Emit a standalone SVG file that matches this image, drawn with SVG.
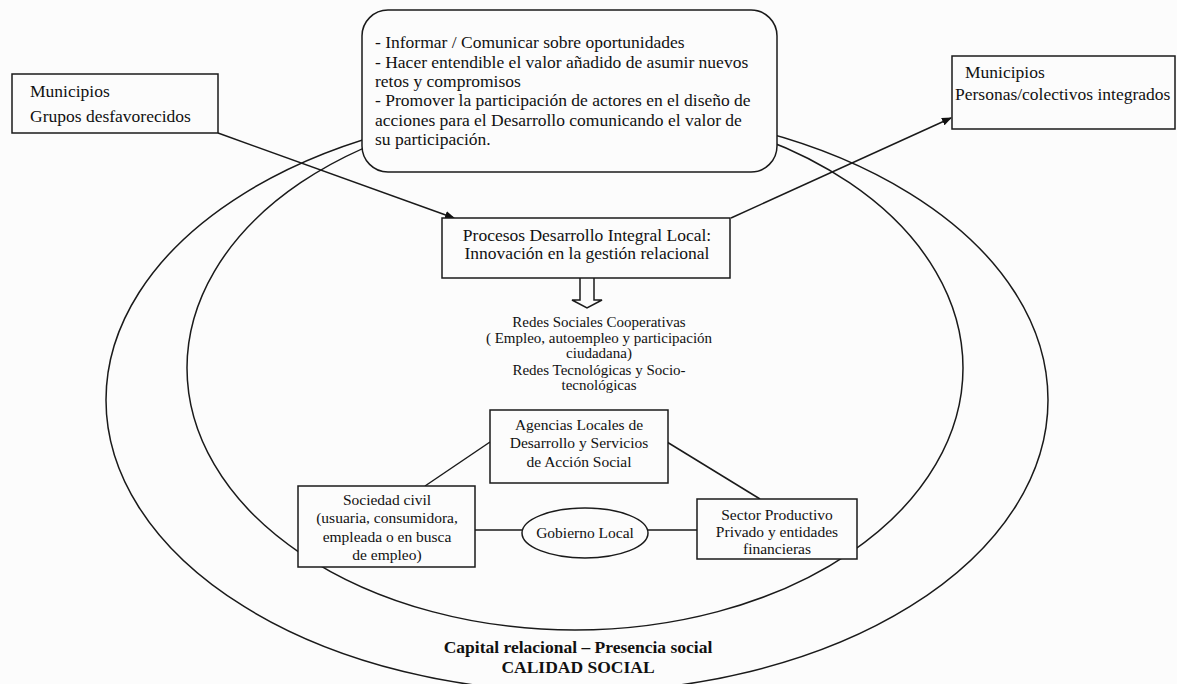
<svg xmlns="http://www.w3.org/2000/svg" width="1177" height="684" viewBox="0 0 1177 684">
<style>
.ln{fill:none;stroke:#1a1a1a;stroke-width:1.5}
.bx{fill:#fcfcfc;stroke:#1a1a1a;stroke-width:1.5}
.t{font-family:"Liberation Serif","Times New Roman",serif;fill:#111}
.big{font-size:17.5px}
.mid{font-size:15.5px}
.sm{font-size:15px}
.c{text-anchor:middle}
.b{font-weight:bold}
</style>
<defs>
<marker id="ah" markerWidth="10" markerHeight="8" refX="9" refY="4" orient="auto" markerUnits="userSpaceOnUse">
<path d="M0,0 L10,4 L0,8 Z" fill="#111"/>
</marker>
</defs>
<rect x="0" y="0" width="1177" height="684" fill="#fcfcfc"/>
<g id="rings">
<ellipse class="ln" cx="577" cy="400" rx="471" ry="292"/>
<ellipse class="ln" cx="575" cy="368" rx="388" ry="262"/>
</g>
<g id="top-box">
<rect class="bx" x="362" y="10" width="415" height="162" rx="26" ry="26"/>
<text class="t big" x="375" y="48">- Informar / Comunicar sobre oportunidades</text>
<text class="t big" x="375" y="67.5">- Hacer entendible el valor añadido de asumir nuevos</text>
<text class="t big" x="375" y="87">retos y compromisos</text>
<text class="t big" x="375" y="106">- Promover la participación de actores en el diseño de</text>
<text class="t big" x="375" y="125.5">acciones para el Desarrollo comunicando el valor  de</text>
<text class="t big" x="375" y="144.5">su participación.</text>
</g>
<g id="connectors">
<line class="ln" x1="218" y1="133" x2="454" y2="218" marker-end="url(#ah)"/>
<line class="ln" x1="731" y1="218" x2="951" y2="118" marker-end="url(#ah)"/>
<line class="ln" x1="490" y1="442" x2="425" y2="486"/>
<line class="ln" x1="667" y1="442" x2="760" y2="499"/>
<line class="ln" x1="475" y1="530" x2="522" y2="530"/>
<line class="ln" x1="648" y1="530" x2="697" y2="530"/>
<path class="bx" d="M580,278 L580,300 L572,300 L587,308 L602,300 L594,300 L594,278"/>
</g>
<g id="left-box">
<rect class="bx" x="12" y="74" width="206" height="59"/>
<text class="t big" x="30" y="97">Municipios</text>
<text class="t big" x="30" y="122">Grupos desfavorecidos</text>
</g>
<g id="right-box">
<rect class="bx" x="952" y="56" width="223" height="73"/>
<text class="t big" x="965" y="78">Municipios</text>
<text class="t big" x="955" y="100">Personas/colectivos integrados</text>
</g>
<g id="procesos">
<rect class="bx" x="442" y="218" width="288" height="60"/>
<text class="t big c" x="587" y="241">Procesos Desarrollo Integral Local:</text>
<text class="t big c" x="587" y="259">Innovación en la gestión relacional</text>
</g>
<g id="redes">
<text class="t sm c" x="599" y="327">Redes Sociales Cooperativas</text>
<text class="t sm c" x="599" y="343">( Empleo, autoempleo y participación</text>
<text class="t sm c" x="599" y="358">ciudadana)</text>
<text class="t sm c" x="599" y="375">Redes Tecnológicas y Socio-</text>
<text class="t sm c" x="599" y="390">tecnológicas</text>
</g>
<g id="agencias">
<rect class="bx" x="490" y="410" width="178" height="73"/>
<text class="t mid c" x="579" y="430">Agencias Locales de</text>
<text class="t mid c" x="579" y="448">Desarrollo y Servicios</text>
<text class="t mid c" x="579" y="467">de Acción Social</text>
</g>
<g id="sociedad">
<rect class="bx" x="298" y="486" width="177" height="81"/>
<text class="t mid c" x="387" y="505">Sociedad civil</text>
<text class="t mid c" x="387" y="523">(usuaria, consumidora,</text>
<text class="t mid c" x="387" y="542">empleada o en busca</text>
<text class="t mid c" x="387" y="560">de empleo)</text>
</g>
<g id="gobierno">
<ellipse class="bx" cx="585" cy="533" rx="63" ry="25"/>
<text class="t mid c" x="585" y="538">Gobierno Local</text>
</g>
<g id="sector">
<rect class="bx" x="697" y="499" width="160" height="60"/>
<text class="t mid c" x="777" y="520">Sector Productivo</text>
<text class="t mid c" x="777" y="537">Privado y entidades</text>
<text class="t mid c" x="777" y="554">financieras</text>
</g>
<g id="footer">
<text class="t big b c" x="578" y="653">Capital relacional – Presencia social</text>
<text class="t big b c" x="578" y="673">CALIDAD SOCIAL</text>
</g>
</svg>
